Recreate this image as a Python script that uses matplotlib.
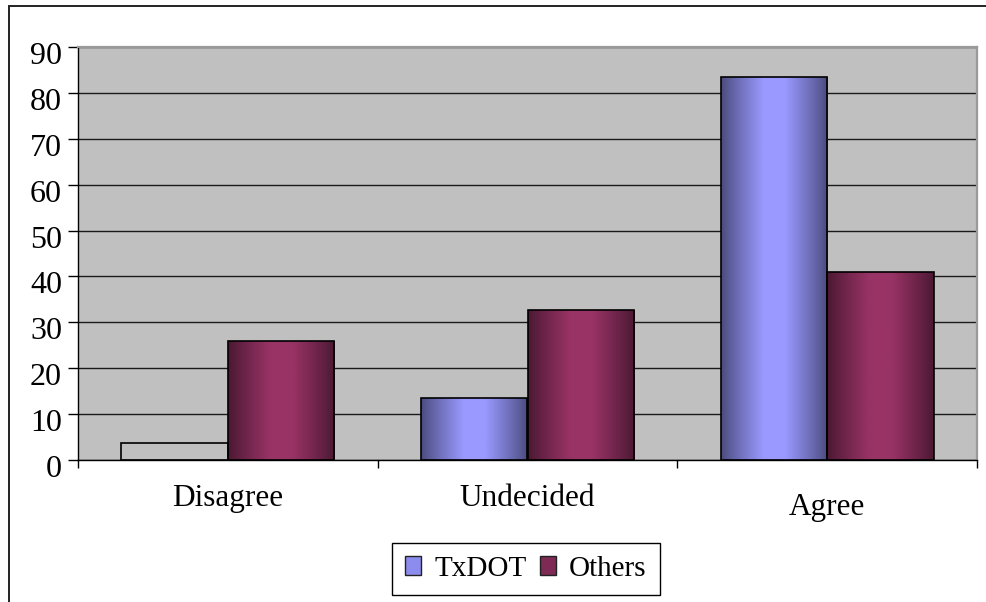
import numpy as np
import matplotlib
matplotlib.use("Agg")
import matplotlib.pyplot as plt
from matplotlib.patches import Patch, Rectangle
from matplotlib.colors import to_rgb
import matplotlib.transforms as mtransforms

plt.rcParams['font.family'] = ['Liberation Serif', 'DejaVu Serif']

categories = ["Disagree", "Undecided", "Agree"]
series_names = ["TxDOT", "Others"]
txdot = [3.7, 13.6, 83.4]
others = [25.9, 32.7, 41.0]
y_ticks = [0, 10, 20, 30, 40, 50, 60, 70, 80, 90]

series_values = [txdot, others]
dark_cols = ["#4a4a7c", "#4a1832"]
light_cols = ["#9999ff", "#993366"]
legend_cols = ["#8c8cee", "#7d2a55"]
no_fill = {(0, 0)}  # the TxDOT "Disagree" bar is drawn without fill in the original

W, H = 986, 602
fig = plt.figure(figsize=(W / 100, H / 100), dpi=100)
ax = fig.add_axes([78 / W, 1 - 460 / H, (977 - 78) / W, (460 - 47) / H])
ax.set_facecolor("#c0c0c0")

# outer chart border (left + top)
fig.patches.append(Rectangle((9 / W, -0.1), 1.2, 1 - 6 / H + 0.1, transform=fig.transFigure,
                             fill=False, edgecolor="#222222", linewidth=1.4, zorder=0))

bar_w = 0.355
x = np.arange(len(categories))

def gradient_row(dark, light, n=256):
    t = np.linspace(0, 1, n)
    peak = 0.5
    f = np.where(t < peak, (t / peak), (1 - t) / (1 - peak))
    f = np.clip(f * 1.25, 0, 1) ** 0.9
    d = np.array(to_rgb(dark)); l = np.array(to_rgb(light))
    return (d[None, :] + (l - d)[None, :] * f[:, None])[None, :, :]

for s, vals in enumerate(series_values):
    offs = (s - 0.5) * bar_w
    bars = ax.bar(x + offs, vals, width=bar_w, facecolor="none", edgecolor="black",
                  linewidth=1.2, zorder=3)
    grad = gradient_row(dark_cols[s], light_cols[s])
    for i, b in enumerate(bars):
        if (s, i) in no_fill:
            continue
        im = ax.imshow(grad, extent=[b.get_x(), b.get_x() + b.get_width(), 0, b.get_height()],
                       aspect="auto", zorder=2, interpolation="bilinear")
        im.set_clip_path(b)

ax.set_xlim(-0.5, len(categories) - 0.5)
ax.set_ylim(0, 90)
ax.set_yticks(y_ticks)
ax.set_yticklabels([str(v) for v in y_ticks], fontsize=23)
ax.yaxis.grid(True, color="#1a1a1a", linewidth=1.0, zorder=1)
ax.set_axisbelow(True)
ax.tick_params(axis="y", length=7.5, width=1.0, pad=4, color="black")
ax.set_xticks(np.arange(len(categories) + 1) - 0.5)
ax.set_xticklabels([])
ax.tick_params(axis="x", length=6, width=1.0, color="black")

for sp in ["left", "bottom"]:
    ax.spines[sp].set_color("black"); ax.spines[sp].set_linewidth(1.0)
for sp in ["top", "right"]:
    ax.spines[sp].set_color("#9a9a9a"); ax.spines[sp].set_linewidth(1.6)

off = mtransforms.ScaledTranslation(0, -6 / 100, fig.dpi_scale_trans)
for lab in ax.get_yticklabels():
    lab.set_transform(lab.get_transform() + off)

# category labels
label_y = [-(506 - 460) / 413, -(506 - 460) / 413, -(515 - 460) / 413]
trans = mtransforms.blended_transform_factory(ax.transData, ax.transAxes)
for i, c in enumerate(categories):
    ax.text(x[i], label_y[i], c, transform=trans, ha="center", va="baseline", fontsize=22.5)

handles = [Patch(facecolor=legend_cols[k], edgecolor="#222222", linewidth=1.0) for k in range(2)]
leg = fig.legend(handles, series_names, loc="center", ncol=2,
                 bbox_to_anchor=((394 + 658) / 2 / W, 1 - (543 + 595) / 2 / H),
                 fontsize=21, frameon=True, fancybox=False, framealpha=1,
                 edgecolor="black", handlelength=0.55, handleheight=0.6,
                 handletextpad=0.45, columnspacing=0.45, borderpad=0.45, borderaxespad=0)
leg.get_frame().set_linewidth(1.0)

fig.savefig("out.png", dpi=100)
